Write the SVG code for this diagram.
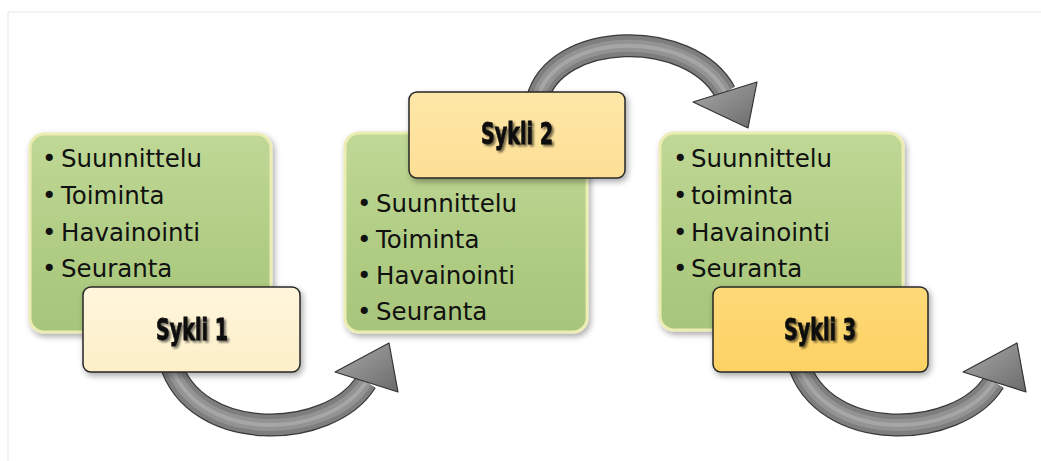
<svg xmlns="http://www.w3.org/2000/svg" width="1041" height="461" viewBox="0 0 1041 461">
  <defs>
    <linearGradient id="gGreen" x1="0" y1="0" x2="0" y2="1">
      <stop offset="0" stop-color="#c0d896"/>
      <stop offset="0.5" stop-color="#b2ce86"/>
      <stop offset="1" stop-color="#a7c57a"/>
    </linearGradient>
    <linearGradient id="gS1" x1="0" y1="0" x2="0" y2="1">
      <stop offset="0" stop-color="#fff6dc"/>
      <stop offset="1" stop-color="#fcefc8"/>
    </linearGradient>
    <linearGradient id="gS2" x1="0" y1="0" x2="0" y2="1">
      <stop offset="0" stop-color="#fee7a8"/>
      <stop offset="1" stop-color="#fddf95"/>
    </linearGradient>
    <linearGradient id="gS3" x1="0" y1="0" x2="0" y2="1">
      <stop offset="0" stop-color="#fed978"/>
      <stop offset="1" stop-color="#fcd264"/>
    </linearGradient>
    <linearGradient id="gHead" x1="0" y1="0" x2="1" y2="1">
      <stop offset="0" stop-color="#a9a9a9"/>
      <stop offset="0.6" stop-color="#848484"/>
      <stop offset="1" stop-color="#6a6a6a"/>
    </linearGradient>
    <filter id="shadow" x="-10%" y="-10%" width="125%" height="130%">
      <feGaussianBlur in="SourceAlpha" stdDeviation="3"/>
      <feOffset dx="2" dy="3" result="b"/>
      <feComponentTransfer><feFuncA type="linear" slope="0.35"/></feComponentTransfer>
      <feMerge><feMergeNode/><feMergeNode in="SourceGraphic"/></feMerge>
    </filter>
    <filter id="tshadow" x="-10%" y="-20%" width="130%" height="150%">
      <feGaussianBlur in="SourceAlpha" stdDeviation="1.2"/>
      <feOffset dx="2" dy="2" result="b"/>
      <feComponentTransfer><feFuncA type="linear" slope="0.55"/></feComponentTransfer>
      <feMerge><feMergeNode/><feMergeNode in="SourceGraphic"/></feMerge>
    </filter>
    <style>
      .green { fill: url(#gGreen); stroke: #ecedb4; stroke-width: 3; }
      .cyc { stroke: #262626; stroke-width: 1.5; }
      .item { font-family: "DejaVu Sans", sans-serif; font-size: 24.5px; fill: #111; }
      .label { font-family: "DejaVu Sans Condensed", "DejaVu Sans", sans-serif; font-weight: bold; font-size: 31px; fill: #0d0d0d; stroke: #0d0d0d; stroke-width: 0.8; text-anchor: middle; }
      .sh0 { fill: none; stroke: #3a3a3a; stroke-width: 23; }
      .sh1 { fill: none; stroke: #7e7e7e; stroke-width: 20.5; }
      .sh2 { fill: none; stroke: #939393; stroke-width: 12; }
      .sh3 { fill: none; stroke: #a6a6a6; stroke-width: 4; }
      .head { fill: url(#gHead); stroke: #333; stroke-width: 1.2; stroke-linejoin: round; }
    </style>
  </defs>

  <rect x="0" y="0" width="1041" height="461" fill="#ffffff"/>
  <path d="M8,461 V12 H1041" fill="none" stroke="#eeeeee" stroke-width="1.5"/>

  <g id="connectors">
    <g id="arrow1">
      <path class="sh0" d="M170,362 C195,445 330,440 366,382"/>
      <path class="sh1" d="M170,362 C195,445 330,440 366,382"/>
      <path class="sh2" d="M170,362 C195,445 330,440 366,382"/>
      <path class="sh3" d="M170,362 C195,445 330,440 366,382"/>
      <polygon class="head" points="335,372 389,343 398,392"/>
    </g>
    <g id="arrow2">
      <path class="sh0" d="M537,100 C555,30 690,28 725,92"/>
      <path class="sh1" d="M537,100 C555,30 690,28 725,92"/>
      <path class="sh2" d="M537,100 C555,30 690,28 725,92"/>
      <path class="sh3" d="M537,100 C555,30 690,28 725,92"/>
      <polygon class="head" points="693,102 757,82 748,128"/>
    </g>
    <g id="arrow3" transform="translate(628,0)">
      <path class="sh0" d="M170,362 C195,445 330,440 366,382"/>
      <path class="sh1" d="M170,362 C195,445 330,440 366,382"/>
      <path class="sh2" d="M170,362 C195,445 330,440 366,382"/>
      <path class="sh3" d="M170,362 C195,445 330,440 366,382"/>
      <polygon class="head" points="335,372 389,343 398,392"/>
    </g>
  </g>

  <g id="list1">
    <rect class="green" x="30" y="134" width="241" height="198" rx="14" filter="url(#shadow)"/>
    <text class="item"><tspan x="42" y="167">•</tspan><tspan x="61" y="167">Suunnittelu</tspan></text>
    <text class="item"><tspan x="42" y="204">•</tspan><tspan x="61" y="204">Toiminta</tspan></text>
    <text class="item"><tspan x="42" y="241">•</tspan><tspan x="61" y="241">Havainointi</tspan></text>
    <text class="item"><tspan x="42" y="277">•</tspan><tspan x="61" y="277">Seuranta</tspan></text>
  </g>

  <g id="list2">
    <rect class="green" x="345" y="133" width="242" height="199" rx="14" filter="url(#shadow)"/>
    <text class="item"><tspan x="357" y="212">•</tspan><tspan x="376" y="212">Suunnittelu</tspan></text>
    <text class="item"><tspan x="357" y="248">•</tspan><tspan x="376" y="248">Toiminta</tspan></text>
    <text class="item"><tspan x="357" y="284">•</tspan><tspan x="376" y="284">Havainointi</tspan></text>
    <text class="item"><tspan x="357" y="320">•</tspan><tspan x="376" y="320">Seuranta</tspan></text>
  </g>

  <g id="list3">
    <rect class="green" x="660" y="133" width="243" height="197" rx="14" filter="url(#shadow)"/>
    <text class="item"><tspan x="673" y="167">•</tspan><tspan x="691" y="167">Suunnittelu</tspan></text>
    <text class="item"><tspan x="673" y="204">•</tspan><tspan x="691" y="204">toiminta</tspan></text>
    <text class="item"><tspan x="673" y="241">•</tspan><tspan x="691" y="241">Havainointi</tspan></text>
    <text class="item"><tspan x="673" y="277">•</tspan><tspan x="691" y="277">Seuranta</tspan></text>
  </g>

  <g id="sykli1">
    <rect class="cyc" x="83" y="287" width="217" height="85" rx="8" fill="url(#gS1)" filter="url(#shadow)"/>
    <text class="label" x="192" y="340" textLength="72" lengthAdjust="spacingAndGlyphs" filter="url(#tshadow)">Sykli 1</text>
  </g>

  <g id="sykli2">
    <rect class="cyc" x="409" y="92" width="216" height="86" rx="8" fill="url(#gS2)" filter="url(#shadow)"/>
    <text class="label" x="517" y="144" textLength="72" lengthAdjust="spacingAndGlyphs" filter="url(#tshadow)">Sykli 2</text>
  </g>

  <g id="sykli3">
    <rect class="cyc" x="713" y="287" width="215" height="85" rx="8" fill="url(#gS3)" filter="url(#shadow)"/>
    <text class="label" x="820" y="340" textLength="72" lengthAdjust="spacingAndGlyphs" filter="url(#tshadow)">Sykli 3</text>
  </g>
</svg>
